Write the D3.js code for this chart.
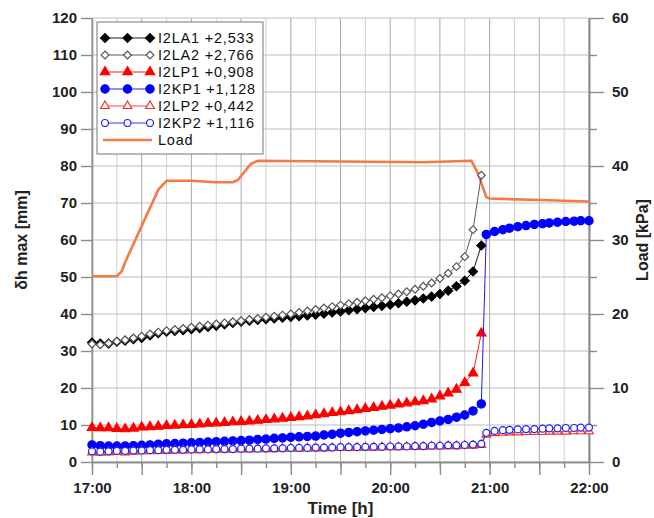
<!DOCTYPE html>
<html>
<head>
<meta charset="utf-8">
<script src="https://cdn.jsdelivr.net/npm/d3@7"></script>
<style>
    body { margin: 0; background: #fff; }
    text { font-family: "Liberation Sans", Arial, sans-serif; }
</style>
</head>
<body>
<div id="chart"></div>
<script>
// 1: DATA (times are minutes after 17:00)
const preTimes = [0,5,10,15,20,25,30,35,40,45,50,55,60,65,70,75,80,85,90,95,100,105,110,115,
    120,125,130,135,140,145,150,155,160,165,170,175,180,185,190,195,200,205,210,215,220,225,230,235];
const postTimes = [238,243,248,252,257,262,267,272,276,281,286,291,295,300];

const la1 = [32.3,32.0,32.0,32.5,32.8,33.2,33.5,34.2,34.8,35.2,35.4,35.6,35.9,36.2,36.5,36.8,37.2,37.6,37.9,38.2,
    38.4,38.6,38.8,39.0,39.2,39.4,39.6,39.8,40.1,40.4,40.7,41.0,41.3,41.6,41.9,42.2,42.5,42.9,43.3,43.7,
    44.2,44.7,45.4,46.3,47.5,49.0,51.5,58.5];
const la2 = [31.9,31.7,32.1,32.6,33.0,33.5,34.0,34.6,35.1,35.5,35.8,36.1,36.4,36.7,37.0,37.3,37.6,37.9,38.2,38.5,
    38.8,39.1,39.4,39.7,40.0,40.4,40.8,41.2,41.6,42.0,42.4,42.8,43.2,43.6,44.0,44.4,44.9,45.4,46.0,46.7,
    47.5,48.4,49.6,51.0,52.8,55.5,62.8,77.5];
const lp1 = [9.3,9.2,9.2,9.0,8.9,9.1,9.4,9.5,9.6,9.8,9.9,10.0,10.1,10.2,10.4,10.5,10.6,10.8,10.9,11.0,
    11.2,11.4,11.6,11.8,12.0,12.2,12.4,12.7,13.0,13.3,13.5,13.8,14.1,14.4,14.7,15.0,15.3,15.6,15.9,16.2,
    16.5,17.0,17.8,18.6,19.6,21.4,24.0,34.8];
const kp1Pre = [4.6,4.4,4.3,4.3,4.3,4.4,4.5,4.6,4.8,4.9,5.0,5.1,5.2,5.3,5.4,5.5,5.6,5.7,5.8,5.9,
    6.1,6.2,6.4,6.5,6.7,6.8,6.9,7.0,7.3,7.5,7.8,8.0,8.2,8.4,8.6,8.8,9.0,9.2,9.5,9.8,
    10.2,10.7,11.1,11.5,12.1,12.7,13.8,15.7];
const kp1Post = [61.5,62.3,62.8,63.2,63.6,63.9,64.2,64.4,64.6,64.8,65.0,65.1,65.2,65.2];
const lp2Pre = [2.6,2.5,2.6,2.7,2.6,2.8,2.9,2.9,3.0,3.0,3.1,3.1,3.2,3.2,3.3,3.3,3.3,3.4,3.4,3.4,
    3.5,3.5,3.5,3.6,3.6,3.6,3.7,3.7,3.7,3.8,3.8,3.8,3.9,3.9,3.9,4.0,4.0,4.0,4.1,4.1,
    4.1,4.2,4.2,4.3,4.3,4.4,4.4,4.6];
const lp2Post = [7.4,7.8,7.9,8.0,8.0,8.1,8.1,8.1,8.2,8.2,8.2,8.3,8.3,8.3];
const kp2Pre = [2.9,2.8,2.9,3.0,3.0,3.1,3.1,3.2,3.2,3.3,3.3,3.3,3.4,3.4,3.4,3.5,3.5,3.5,3.6,3.6,
    3.6,3.7,3.7,3.7,3.8,3.8,3.8,3.9,3.9,3.9,4.0,4.0,4.0,4.1,4.1,4.1,4.2,4.2,4.2,4.3,
    4.3,4.4,4.4,4.5,4.5,4.6,4.7,4.9];
const kp2Post = [7.9,8.4,8.6,8.7,8.8,8.9,8.9,9.0,9.1,9.1,9.2,9.2,9.3,9.3];

const loadTimes = [0,15,18,20,40,45,60,75,85,88,92,96,100,150,200,229,233,238,240,270,300];
const loadKPa = [25.1,25.1,25.8,27.0,36.8,38.0,38.0,37.8,37.8,38.1,39.2,40.3,40.7,40.6,40.5,40.7,39.0,35.8,35.6,35.4,35.2];

const legendLabels = ["I2LA1 +2,533", "I2LA2 +2,766", "I2LP1 +0,908", "I2KP1 +1,128", "I2LP2 +0,442", "I2KP2 +1,116", "Load"];
const leftTicks = [0,10,20,30,40,50,60,70,80,90,100,110,120];
const rightTicks = [0,10,20,30,40,50,60];
const rightMinor = [5,15,25,35,45,55];
const hourLabels = ["17:00","18:00","19:00","20:00","21:00","22:00"];

// 2: SET UP
const margin = { top: 18, right: 65, bottom: 56, left: 92 };
const width = 654 - margin.left - margin.right;
const height = 518 - margin.top - margin.bottom;

const svg = d3.select("#chart")
    .append("svg")
    .attr("width", 654)
    .attr("height", 518)
    .append("g")
    .attr("transform", `translate(${margin.left},${margin.top})`);

const base = new Date(2000, 0, 1, 17, 0);
const toDate = m => new Date(base.getTime() + m * 60000);
const parseHour = d3.timeParse("%Y-%m-%d %H:%M");

const x = d3.scaleTime()
    .domain([parseHour("2000-01-01 " + hourLabels[0]), parseHour("2000-01-01 " + hourLabels[hourLabels.length - 1])])
    .range([0, width]);
const y = d3.scaleLinear().domain([0, 120]).range([height, 0]);
const yR = d3.scaleLinear().domain([0, 60]).range([height, 0]);

// grid
const quarter = x.ticks(d3.timeMinute.every(15));
svg.append("g").selectAll("line")
    .data(quarter)
    .enter().append("line")
    .attr("x1", d => x(d)).attr("x2", d => x(d))
    .attr("y1", 0).attr("y2", height)
    .attr("stroke", d => d.getMinutes() % 30 === 0 ? "#a8a8a8" : "#cfcfcf")
    .attr("stroke-width", 1);

svg.append("g").selectAll("line")
    .data(leftTicks)
    .enter().append("line")
    .attr("x1", 0).attr("x2", width)
    .attr("y1", d => y(d)).attr("y2", d => y(d))
    .attr("stroke", "#bdbdbd")
    .attr("stroke-width", 1);

// axes
function styleAxis(g) {
    g.select(".domain").attr("stroke", "#8c8c8c").attr("stroke-width", 1.6);
    g.selectAll(".tick line").attr("stroke", "#8c8c8c").attr("stroke-width", 1.4);
    g.selectAll(".tick text")
        .attr("fill", "#222")
        .style("font-size", "15px")
        .style("font-weight", "bold");
}

svg.append("g")
    .attr("transform", `translate(0,${height})`)
    .call(d3.axisBottom(x).ticks(d3.timeMinute.every(15)).tickSize(6).tickFormat("").tickSizeOuter(0))
    .call(styleAxis);

svg.append("g")
    .attr("transform", `translate(0,${height})`)
    .call(d3.axisBottom(x).ticks(d3.timeMinute.every(30)).tickSize(13).tickPadding(7).tickSizeOuter(0)
        .tickFormat(d => d.getMinutes() === 0 ? d3.timeFormat("%H:%M")(d) : ""))
    .call(styleAxis);

svg.append("g")
    .call(d3.axisLeft(y).tickValues(leftTicks).tickSize(11).tickPadding(4).tickSizeOuter(0))
    .call(styleAxis);

svg.append("g")
    .attr("transform", `translate(${width},0)`)
    .call(d3.axisRight(yR).tickValues(rightMinor).tickSize(8).tickFormat("").tickSizeOuter(0))
    .call(styleAxis);

svg.append("g")
    .attr("transform", `translate(${width},0)`)
    .call(d3.axisRight(yR).tickValues(rightTicks).tickSize(15).tickPadding(8).tickSizeOuter(0))
    .call(styleAxis);

// axis titles
svg.append("text")
    .attr("x", width / 2)
    .attr("y", height + 52)
    .attr("text-anchor", "middle")
    .style("font-size", "17px")
    .style("font-weight", "bold")
    .attr("fill", "#222")
    .text("Time [h]");

svg.append("text")
    .attr("transform", "rotate(-90)")
    .attr("x", -height / 2)
    .attr("y", -margin.left + 27)
    .attr("text-anchor", "middle")
    .style("font-size", "16px")
    .style("font-weight", "bold")
    .attr("fill", "#222")
    .text("δh max [mm]");

svg.append("text")
    .attr("transform", "rotate(-90)")
    .attr("x", -height / 2)
    .attr("y", width + 59)
    .attr("text-anchor", "middle")
    .style("font-size", "16px")
    .style("font-weight", "bold")
    .attr("fill", "#222")
    .text("Load [kPa]");

// 3: SERIES
const zip = (ts, vs) => ts.map((t, i) => ({ t: t, v: vs[i] }));
const series = [
    { data: zip(preTimes, la1), color: "#000", line: "#000", symbol: d3.symbolSquare, rot: 45, size: 40, fill: "#000" },
    { data: zip(preTimes, la2), color: "#555", line: "#444", symbol: d3.symbolSquare, rot: 45, size: 30, fill: "#fff" },
    { data: zip(preTimes, lp1), color: "#ff0000", line: "#ff0000", symbol: d3.symbolTriangle, rot: 0, size: 38, fill: "#ff0000" },
    { data: zip(preTimes.concat(postTimes), kp1Pre.concat(kp1Post)), color: "#0000ff", line: "#0000ff", symbol: d3.symbolCircle, rot: 0, size: 54, fill: "#0000ff" },
    { data: zip(preTimes.concat(postTimes), lp2Pre.concat(lp2Post)), color: "#ee3333", line: "#ee3333", symbol: d3.symbolTriangle, rot: 0, size: 32, fill: "#fff" },
    { data: zip(preTimes.concat(postTimes), kp2Pre.concat(kp2Post)), color: "#2222ee", line: "#2222ee", symbol: d3.symbolCircle, rot: 0, size: 38, fill: "#fff" }
];

const line = d3.line()
    .x(d => x(toDate(d.t)))
    .y(d => y(d.v));

const loadLine = d3.line()
    .x(d => x(toDate(d.t)))
    .y(d => yR(d.v));

svg.append("path")
    .datum(zip(loadTimes, loadKPa))
    .attr("fill", "none")
    .attr("stroke", "#f47a45")
    .attr("stroke-width", 2.6)
    .attr("stroke-linejoin", "round")
    .attr("d", loadLine);

series.forEach(s => {
    svg.append("path")
        .datum(s.data)
        .attr("fill", "none")
        .attr("stroke", s.line)
        .attr("stroke-width", 0.9)
        .attr("d", line);

    svg.append("g").selectAll("path")
        .data(s.data)
        .enter().append("path")
        .attr("transform", d => `translate(${x(toDate(d.t))},${y(d.v)}) rotate(${s.rot})`)
        .attr("d", d3.symbol().type(s.symbol).size(s.size))
        .attr("fill", s.fill)
        .attr("stroke", s.color)
        .attr("stroke-width", 1.2);
});

// 4: LEGEND
const legend = svg.append("g").attr("transform", "translate(5,4)");
legend.append("rect")
    .attr("width", 166)
    .attr("height", 132)
    .attr("fill", "#fff")
    .attr("stroke", "#777")
    .attr("stroke-width", 1);

legendLabels.forEach((label, i) => {
    const row = legend.append("g").attr("transform", `translate(0,${16 + i * 17})`);
    if (i < series.length) {
        const s = series[i];
        row.append("line")
            .attr("x1", 8).attr("x2", 53)
            .attr("stroke", s.line).attr("stroke-width", 0.9);
        [8, 30.5, 53].forEach(px => {
            row.append("path")
                .attr("transform", `translate(${px},0) rotate(${s.rot})`)
                .attr("d", d3.symbol().type(s.symbol).size(s.size))
                .attr("fill", s.fill)
                .attr("stroke", s.color)
                .attr("stroke-width", 1.2);
        });
    } else {
        row.append("line")
            .attr("x1", 6).attr("x2", 55)
            .attr("stroke", "#f47a45").attr("stroke-width", 2.6);
    }
    row.append("text")
        .attr("x", 61)
        .attr("y", 5)
        .style("font-size", "14.5px")
        .style("letter-spacing", "0.8px")
        .attr("fill", "#111")
        .text(label);
});
</script>
</body>
</html>
